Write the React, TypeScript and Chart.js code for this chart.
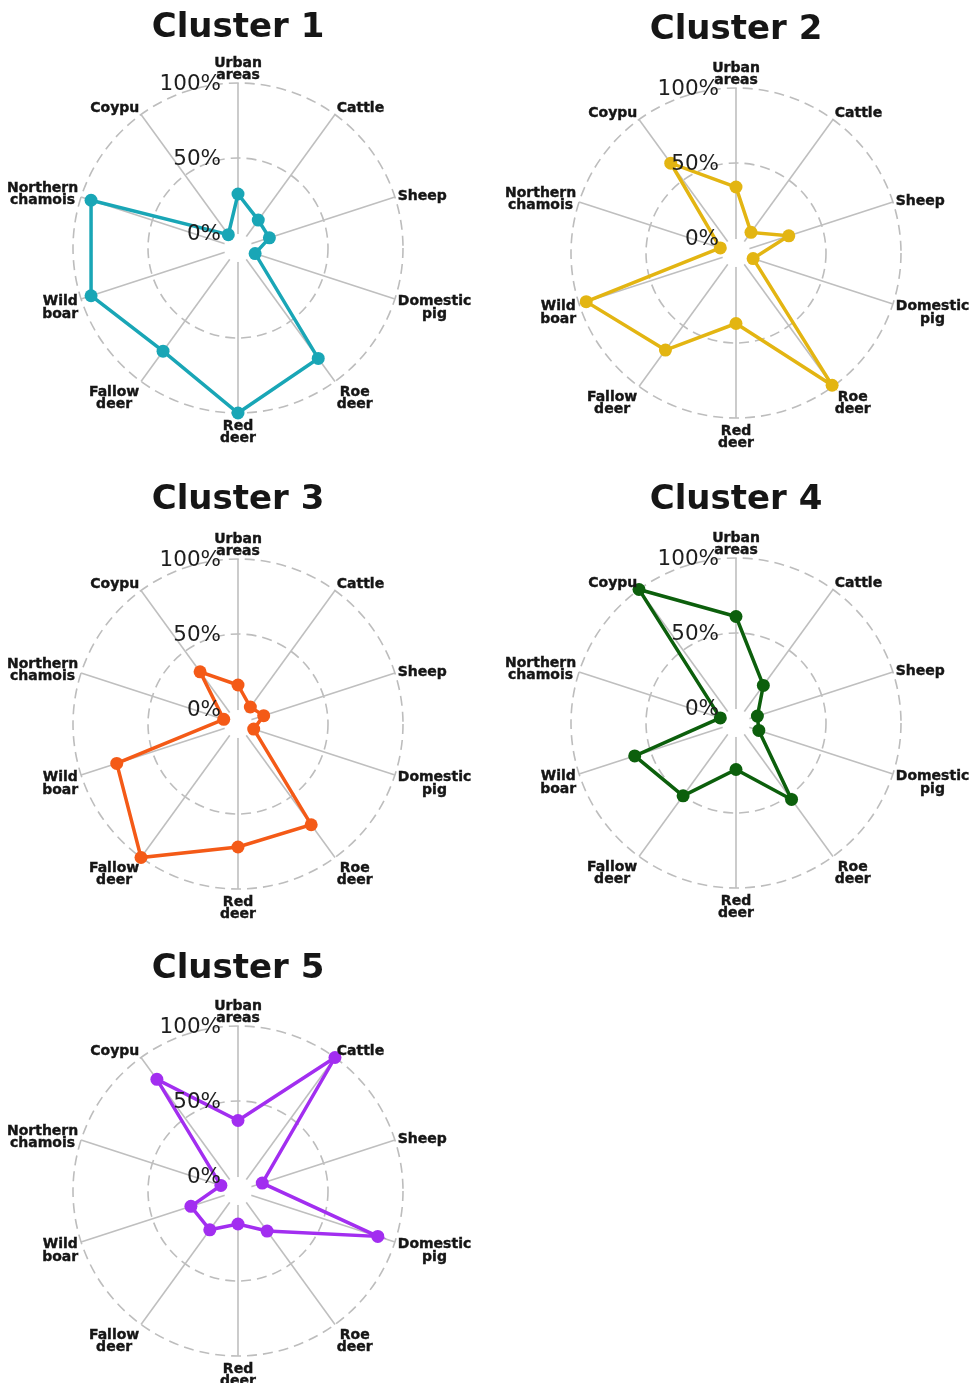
import React, { useEffect, useRef } from 'react';
import { Chart, registerables } from 'chart.js';

Chart.register(...registerables);

// ---------- data ----------
const categories: string[][] = [
  ['Urban', 'areas'],
  ['Cattle'],
  ['Sheep'],
  ['Domestic', 'pig'],
  ['Roe', 'deer'],
  ['Red', 'deer'],
  ['Fallow', 'deer'],
  ['Wild', 'boar'],
  ['Northern', 'chamois'],
  ['Coypu'],
];

const tickValues = [0, 50, 100];
const tickLabels = ['0%', '50%', '100%'];

const cluster1 = [26, 13, 12, 2, 81, 100, 75, 93, 93, 1];
const cluster2 = [34, 7, 27, 2, 99, 37, 70, 95, 1, 64];
const cluster3 = [16, 4, 8, 1, 73, 72, 100, 75, 0, 33];
const cluster4 = [61, 21, 5, 6, 53, 21, 50, 61, 1, 100];
const cluster5 = [37, 100, 7, 88, 23, 12, 22, 23, 2, 82];

const clusterNames = ['Cluster 1', 'Cluster 2', 'Cluster 3', 'Cluster 4', 'Cluster 5'];
const clusterSeries = [cluster1, cluster2, cluster3, cluster4, cluster5];
const clusterColors = ['#19a6b6', '#e3b512', '#f45a17', '#0c5f0c', '#a22ef0'];

// ---------- layout / style ----------
const PANEL_W = 480;
const CX = 238; // chart centre within panel
const CY = 248;
const R = 165;
const HOLE = 14;
const panels = [
  { left: 0, top: 0, h: 460, titleOff: 222.5 },
  { left: 498, top: 5, h: 460, titleOff: 225.5 },
  { left: 0, top: 476, h: 460, titleOff: 226.5 },
  { left: 498, top: 475, h: 460, titleOff: 225.5 },
  { left: 0, top: 943, h: 440, titleOff: 224.5 },
];
const FONT = '"DejaVu Sans", "Liberation Sans", sans-serif';
const TEXT = '#161616';
const GRID = '#bdbdbd';

const radarDecor = {
  id: 'radarDecor',
  beforeDatasetsDraw(chart: any) {
    const s = chart.scales.r;
    const ctx = chart.ctx;
    ctx.save();
    ctx.fillStyle = '#ffffff';
    ctx.beginPath();
    ctx.arc(s.xCenter, s.yCenter, HOLE, 0, Math.PI * 2);
    ctx.fill();
    ctx.restore();
  },
  afterDatasetsDraw(chart: any) {
    const s = chart.scales.r;
    const ctx = chart.ctx;
    ctx.save();
    // radial tick labels
    ctx.font = `21.5px ${FONT}`;
    ctx.fillStyle = '#1e1e1e';
    ctx.textAlign = 'right';
    ctx.textBaseline = 'middle';
    tickValues.forEach((v, i) => {
      const d = s.getDistanceFromCenterForValue(v);
      ctx.fillText(tickLabels[i], s.xCenter - 17, s.yCenter - d + 1);
    });
    // point labels
    ctx.font = `bold 14px ${FONT}`;
    ctx.fillStyle = TEXT;
    ctx.textAlign = 'center';
    ctx.lineWidth = 0.4;
    ctx.strokeStyle = TEXT;
    const labels = chart.data.labels as any[];
    const lh = 12.2;
    labels.forEach((lab, i) => {
      const lines: string[] = Array.isArray(lab) ? lab : [lab];
      const w = Math.max(...lines.map((l) => ctx.measureText(l).width));
      const h = lines.length * lh + 1;
      const d = s.getDistanceFromCenterForValue(s.max) + 3;
      const p = s.getPointPosition(i, d);
      const sinT = (p.x - s.xCenter) / d;
      const cosT = -(p.y - s.yCenter) / d;
      const cx = p.x + (sinT > 0.05 ? w / 2 : sinT < -0.05 ? -w / 2 : 0);
      const cy = p.y - (cosT * h) / 2 + (cosT > 0 ? 2 : 4);
      lines.forEach((ln, k) => {
        const y = cy - h / 2 + lh / 2 + k * lh + 0.5;
        ctx.fillText(ln, cx, y);
        ctx.strokeText(ln, cx, y);
      });
    });
    ctx.restore();
  },
};

function RadarPanel({ idx }: { idx: number }) {
  const ref = useRef<HTMLCanvasElement | null>(null);
  const pan = panels[idx];
  useEffect(() => {
    if (!ref.current) return;
    const lineH = 34 * 1.2;
    const middleY = CY - pan.titleOff + 2.3;
    const tTop = middleY - lineH / 2;
    const tBottom = CY - R - tTop - lineH;
    const color = clusterColors[idx];
    const chart = new Chart(ref.current, {
      type: 'radar',
      data: {
        labels: categories,
        datasets: [
          {
            data: clusterSeries[idx],
            borderColor: color,
            backgroundColor: color,
            pointBackgroundColor: color,
            pointBorderColor: color,
            borderWidth: 3.5,
            pointRadius: 6.5,
            pointBorderWidth: 0,
            fill: false,
            tension: 0,
          },
        ],
      },
      options: {
        responsive: false,
        animation: false,
        layout: {
          padding: { left: CX - R, right: PANEL_W - CX - R, top: 0, bottom: pan.h - (CY + R) },
        },
        plugins: {
          legend: { display: false },
          tooltip: { enabled: false },
          title: {
            display: true,
            text: clusterNames[idx],
            color: TEXT,
            font: { family: FONT, size: 34, weight: 'bold', lineHeight: 1.2 },
            padding: { top: tTop, bottom: tBottom },
          },
        },
        scales: {
          r: {
            min: -10,
            max: 100,
            startAngle: 0,
            afterBuildTicks: (sc: any) => {
              sc.ticks = tickValues.map((v) => ({ value: v }));
            },
            ticks: { display: false },
            pointLabels: { display: false },
            grid: {
              circular: true,
              lineWidth: 1.6,
              color: (c: any) => (c.tick && c.tick.value > 0 ? GRID : 'rgba(0,0,0,0)'),
            },
            border: { dash: [10, 6] },
            angleLines: { color: '#bfbfbf', lineWidth: 1.6 },
          },
        },
      } as any,
      plugins: [radarDecor],
    });
    return () => chart.destroy();
  }, [idx]);
  return (
    <canvas
      ref={ref}
      width={PANEL_W}
      height={pan.h}
      style={{ position: 'absolute', left: pan.left, top: pan.top, width: PANEL_W, height: pan.h, display: 'block' }}
    />
  );
}

export default function App() {
  return (
    <div style={{ position: 'absolute', left: 0, top: 0, width: 969, height: 1383, background: '#ffffff', overflow: 'hidden' }}>
      {clusterNames.map((_, i) => (
        <RadarPanel key={i} idx={i} />
      ))}
    </div>
  );
}
